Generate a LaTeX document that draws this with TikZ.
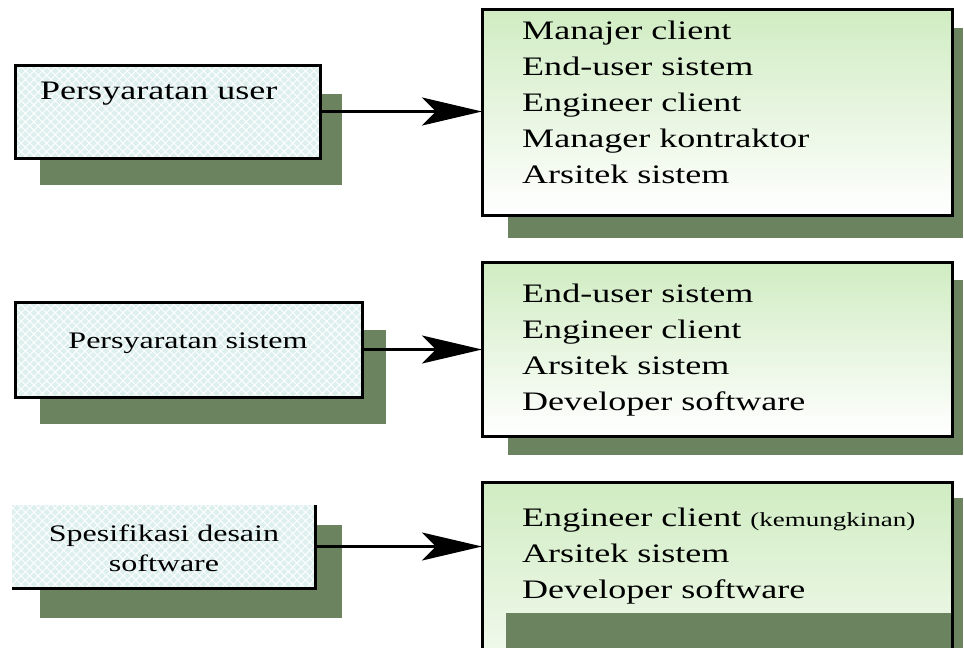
\documentclass[tikz,border=0pt]{standalone}
\usepackage{fontspec}
\setmainfont{Liberation Serif}[FakeStretch=1.35]
\usetikzlibrary{arrows.meta,patterns.meta}

\definecolor{shadowgreen}{RGB}{108,131,96}
\definecolor{boxcyan}{RGB}{222,240,238}
\definecolor{boxgreen}{RGB}{208,236,194}

\tikzset{
  shadowbox/.style={fill=shadowgreen},
  reqbox/.style={rectangle,anchor=north west,inner sep=0pt,outer sep=0pt,
    preaction={fill=boxcyan},
    preaction={pattern={Lines[angle=45,distance=6pt,line width=0.9pt]},pattern color=white},
    preaction={pattern={Lines[angle=-45,distance=6pt,line width=0.9pt]},pattern color=white}},
  rolebox/.style={rectangle,anchor=north west,inner sep=0pt,outer sep=0pt,
    top color=boxgreen,bottom color=white},
  border/.style={draw=black,line width=3pt},
  reqtxt/.style={font=\fontsize{23.7}{30}\selectfont,inner sep=0pt},
  itemtxt/.style={font=\fontsize{26.7}{36}\selectfont,inner sep=0pt,anchor=base west},
  arr/.style={line width=#1,-{Stealth[length=60pt,width=28pt,inset=14pt]}},
  arr/.default=3pt
}
\newcommand{\kecil}[1]{{\fontsize{20}{24}\selectfont #1}}

\begin{document}
\begin{tikzpicture}[x=1pt,y=-1pt]
  \clip (0,0) rectangle (964,648);
  % shadows
  \fill[shadowbox] (40,94) rectangle (342,185);
  \fill[shadowbox] (40,330) rectangle (386,424);
  \fill[shadowbox] (40,525) rectangle (342,618);
  \fill[shadowbox] (508,28) rectangle (963,238);
  \fill[shadowbox] (508,280) rectangle (963,455);
  \fill[shadowbox] (508,498) rectangle (963,648);

  % left: persyaratan
  \node[reqbox,border,minimum width=305,minimum height=93] (user) at (15,65) {};
  \node[itemtxt] (usert) at (40,99) {Persyaratan user};
  \node[reqbox,border,minimum width=347,minimum height=95] (sistem) at (15,302) {};
  \node[reqtxt,anchor=base] (sistemt) at (188,348) {Persyaratan sistem};
  \node[reqbox,minimum width=303,minimum height=83] (spek) at (12,505) {};
  \draw[border] (spek.north east) -- (spek.south east) -- (spek.south west);
  \node[reqtxt,anchor=base] (spekt) at (164,541) {Spesifikasi desain};
  \node[reqtxt,anchor=base] (spekt2) at (164,571) {software};

  % right: pembaca
  \node[rolebox,border,minimum width=470,minimum height=206] (r1) at (482,9) {};
  \foreach \txt [count=\i] in {Manajer client,End-user sistem,Engineer client,
      Manager kontraktor,Arsitek sistem}
    \node[itemtxt] (a\i) at (522,3+36*\i) {\txt};
  \node[rolebox,border,minimum width=470,minimum height=174] (r2) at (482,262) {};
  \foreach \txt [count=\i] in {End-user sistem,Engineer client,Arsitek sistem,
      Developer software}
    \node[itemtxt] (b\i) at (522,266+36*\i) {\txt};
  \node[rolebox,minimum width=470,minimum height=250] (r3) at (482,482) {};
  \fill[shadowbox] (506,613) rectangle (950.5,648);
  \draw[border] (r3.south west) -- (r3.north west) -- (r3.north east) -- (r3.south east);
  \foreach \txt [count=\i] in {Engineer client \kecil{(kemungkinan)},Arsitek sistem,
      Developer software}
    \node[itemtxt] (c\i) at (522,490+36*\i) {\txt};

  % panah
  \draw[arr] (user.east) -- (user.east -| r1.west);
  \draw[arr=2.2pt] (sistem.east) -- (sistem.east -| r2.west);
  \draw[arr=2.2pt] (spek.east) -- (spek.east -| r3.west);
\end{tikzpicture}
\end{document}
